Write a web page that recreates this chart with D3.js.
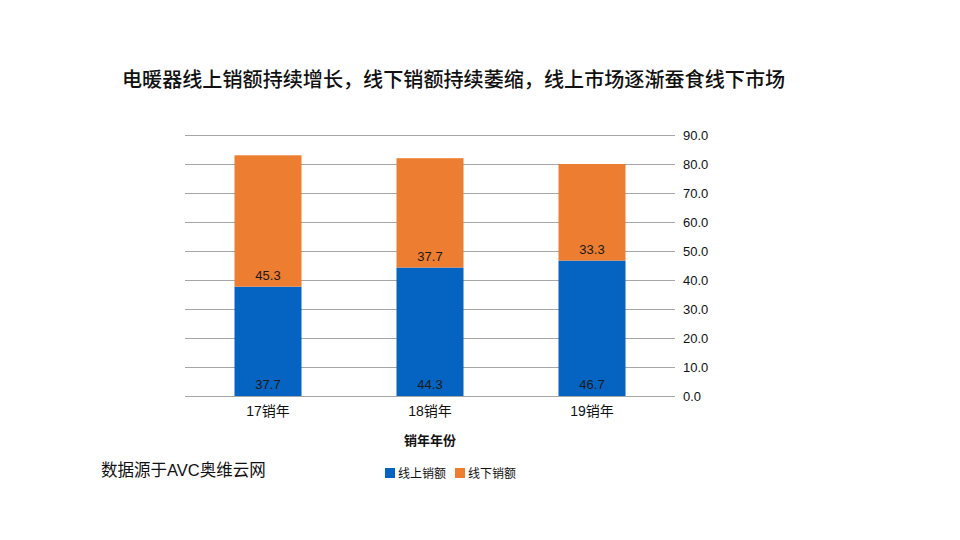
<!DOCTYPE html>
<html><head><meta charset="utf-8">
<script src="https://cdn.jsdelivr.net/npm/d3@7"></script>
<style>body{margin:0;background:#fff}svg{display:block}</style>
</head><body><svg id="c" width="960" height="540"></svg>
<script>
const categories = ["17销年", "18销年", "19销年"];
const onlineValues = [37.7, 44.3, 46.7];
const offlineValues = [45.3, 37.7, 33.3];
const seriesNames = ["线上销额", "线下销额"];
const seriesColors = ["#0563C1", "#ED7D31"];
const yTicks = [0, 10, 20, 30, 40, 50, 60, 70, 80, 90];
const titleText = "电暖器线上销额持续增长，线下销额持续萎缩，线上市场逐渐蚕食线下市场";
const xAxisTitle = "销年年份";
const sourceText = "数据源于AVC奥维云网";

const latinCJK = "'Liberation Sans','Noto Sans CJK SC',sans-serif";
const latin = "'Liberation Sans',Arial,sans-serif";
const cjk = "'Noto Sans CJK SC',sans-serif";

const svg = d3.select("#c");
const x = d3.scaleBand().domain(categories).range([187, 673]).paddingInner(0.585).paddingOuter(0.2925);
const y = d3.scaleLinear().domain([0, 90]).range([396, 135]);

svg.append("text").attr("x", 122).attr("y", 87).attr("font-size", 20.1).attr("font-weight", 500)
  .style("font-family", cjk).attr("fill", "#111").text(titleText);

// gridlines
svg.append("g").selectAll("line").data(yTicks).join("line")
  .attr("x1", 185).attr("x2", 675).attr("y1", d => y(d) + 0.5).attr("y2", d => y(d) + 0.5)
  .attr("stroke", "#a6a6a6").attr("stroke-width", 1);

// right axis
const yAxis = d3.axisRight(y).tickValues(yTicks).tickFormat(d3.format(".1f")).tickSize(0).tickPadding(0);
const ga = svg.append("g").attr("transform", "translate(683,0)").call(yAxis);
ga.select(".domain").remove();
ga.selectAll("text").style("font-family", latin).attr("font-size", 13).attr("fill", "#111");

const stackData = categories.map((c, i) => ({cat: c, online: onlineValues[i], offline: offlineValues[i]}));
const stack = d3.stack().keys(["online", "offline"])(stackData);

const bw = 67;
const gs = svg.append("g").selectAll("g").data(stack).join("g").attr("fill", (d, i) => seriesColors[i]);
gs.selectAll("rect").data(d => d).join("rect")
  .attr("x", d => x(d.data.cat) + x.bandwidth() / 2 - bw / 2)
  .attr("width", bw)
  .attr("y", d => y(d[1]))
  .attr("height", d => y(d[0]) - y(d[1]));

// value labels at inside base
const lg = svg.append("g");
stack.forEach((s, si) => {
  lg.selectAll(null).data(s).join("text")
    .attr("x", d => x(d.data.cat) + x.bandwidth() / 2)
    .attr("y", d => y(d[0]) - 7)
    .attr("text-anchor", "middle").attr("font-size", 13)
    .style("font-family", latin)
    .attr("fill", "#1a1a1a")
    .text(d => d3.format(".1f")(d[1] - d[0]));
});

// x axis labels
const xAxis = d3.axisBottom(x).tickSize(0).tickPadding(0);
const gx = svg.append("g").attr("transform", "translate(0,403)").call(xAxis);
gx.select(".domain").remove();
gx.selectAll("text").style("font-family", latinCJK).attr("font-size", 14).attr("fill", "#111").attr("dy", "0.9em");

svg.append("text").attr("x", 430).attr("y", 445).attr("text-anchor", "middle").style("font-family", cjk)
  .attr("font-size", 13).attr("font-weight", 700).attr("fill", "#111").text(xAxisTitle);

svg.append("text").attr("x", 101).attr("y", 476).attr("font-size", 16.5).style("font-family", latinCJK)
  .attr("fill", "#111").text(sourceText);

// legend
const legX = [385, 455];
const leg = svg.append("g").selectAll("g").data(seriesNames).join("g")
  .attr("transform", (d, i) => `translate(${legX[i]},468)`);
leg.append("rect").attr("width", 10).attr("height", 10).attr("fill", (d, i) => seriesColors[i]);
leg.append("text").attr("x", 13).attr("y", 9.5).attr("font-size", 12).style("font-family", cjk)
  .attr("fill", "#111").text(d => d);
</script></body></html>
